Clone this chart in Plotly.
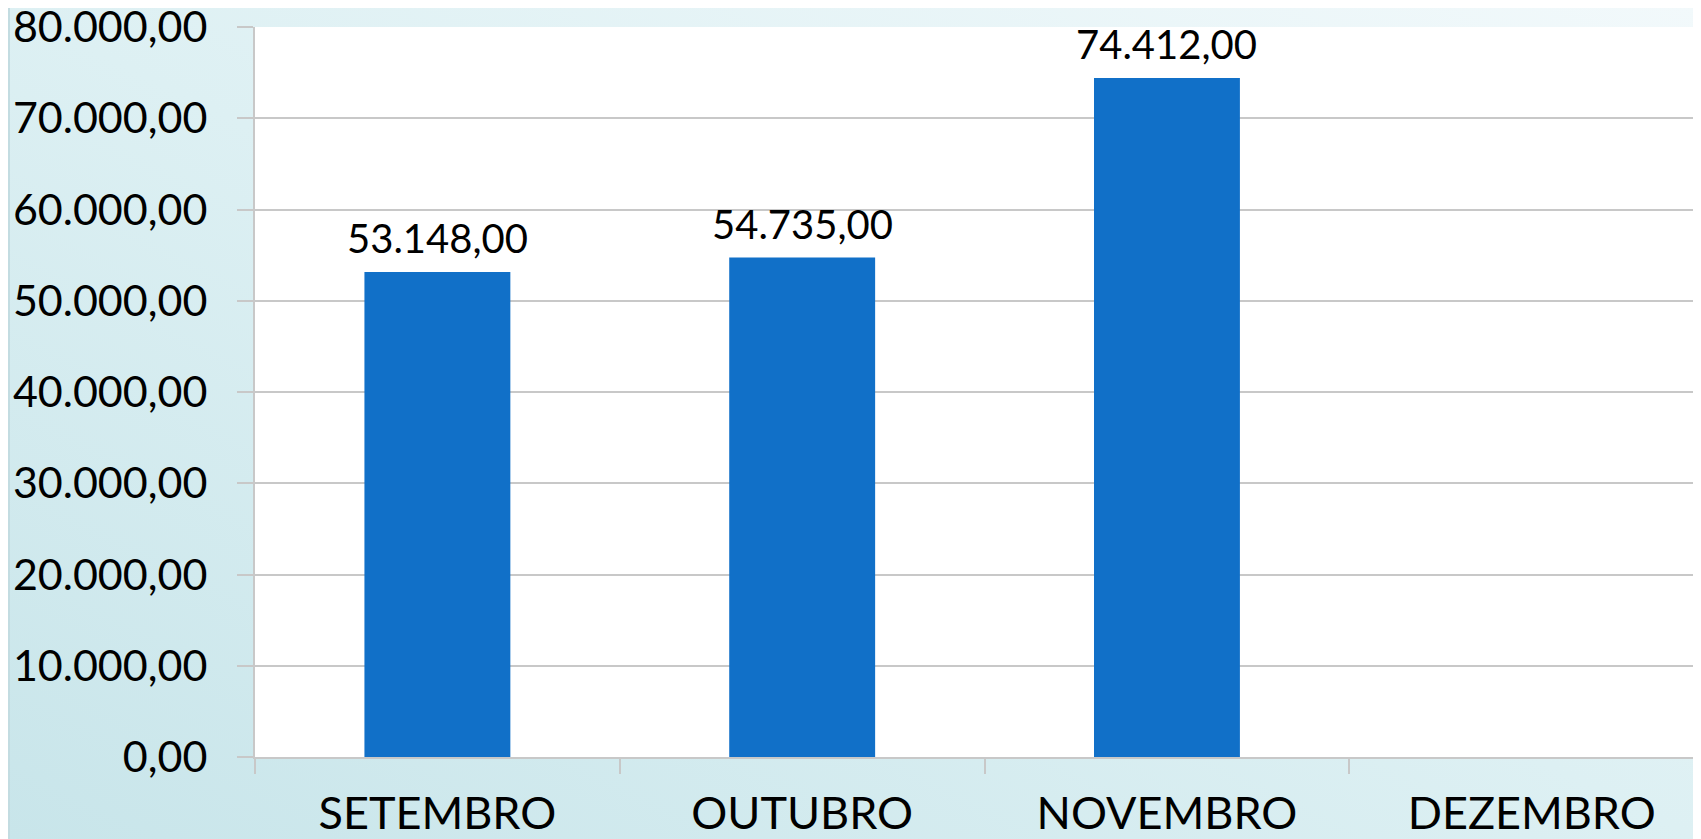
import base64
import plotly.graph_objects as go

# data
months = ['SETEMBRO', 'OUTUBRO', 'NOVEMBRO', 'DEZEMBRO']
values = [53148.00, 54735.00, 74412.00, None]

y_ticks = [0, 10000, 20000, 30000, 40000, 50000, 60000, 70000, 80000]

FONT = 'Lato'
GRID = '#C8C8C8'


def br_number(v):
    # 53148.0 -> '53.148,00'
    return f'{v:,.2f}'.replace(',', '_').replace('.', ',').replace('_', '.')


# soft teal slide background as an svg gradient
svg = (
    '<svg xmlns="http://www.w3.org/2000/svg" width="100" height="100" preserveAspectRatio="none">'
    '<defs><linearGradient id="g" x1="0" y1="1" x2="1" y2="0">'
    '<stop offset="0" stop-color="#C8E5EA"/>'
    '<stop offset="0.5" stop-color="#DDF0F3"/>'
    '<stop offset="1" stop-color="#F2F9FB"/>'
    '</linearGradient></defs>'
    '<rect width="100" height="100" fill="url(#g)"/></svg>'
)
bg_src = 'data:image/svg+xml;base64,' + base64.b64encode(svg.encode()).decode()

# page body adds an 8px offset, so the figure fills the rest of the window
W, H = 1693, 831
ml, mr, mt, mb = 247, 0, 19, 82
pw, ph = W - ml - mr, H - mt - mb

fig = go.Figure(go.Bar(
    x=months,
    y=values,
    width=0.4,
    marker=dict(color='#1170C8', line=dict(width=0)),
    hoverinfo='x+y',
))

# value labels above the bars
for m, v in zip(months, values):
    if v is None:
        continue
    fig.add_annotation(
        x=m, y=v, text=br_number(v),
        showarrow=False, yanchor='bottom', yshift=8,
        font=dict(family=FONT, size=40, color='#000000'),
    )

fig.update_layout(
    width=W,
    height=H,
    margin=dict(l=ml, r=mr, t=mt, b=mb, pad=0, autoexpand=False),
    separators=',.',
    paper_bgcolor='#DDEFF2',
    plot_bgcolor='#FFFFFF',
    showlegend=False,
    font=dict(family=FONT, color='#000000'),
    images=[dict(
        source=bg_src, xref='paper', yref='paper',
        x=-ml / pw, y=1 + mt / ph, sizex=W / pw, sizey=H / ph,
        xanchor='left', yanchor='top', sizing='stretch', layer='below',
    )],
    shapes=[
        # white plot area on top of the background image
        dict(type='rect', xref='paper', yref='paper', x0=0, x1=1, y0=0, y1=1,
             fillcolor='#FFFFFF', line=dict(width=0), layer='below'),
        # thin slide edge line at the far left
        dict(type='line', xref='paper', yref='paper',
             x0=(1 - ml) / pw, x1=(1 - ml) / pw, y0=-mb / ph, y1=1 + mt / ph,
             line=dict(color='#C3DCE1', width=2), layer='below'),
    ],
)

fig.update_yaxes(
    range=[0, 80000],
    tickvals=y_ticks,
    tickformat=',.2f',
    tickfont=dict(family=FONT, size=43),
    showgrid=True,
    gridcolor=GRID,
    gridwidth=1.5,
    zeroline=False,
    showline=True,
    linecolor=GRID,
    linewidth=2,
    ticks='outside',
    ticklen=16,
    tickcolor=GRID,
    tickwidth=1.5,
    ticklabelstandoff=21,
    ticklabeloverflow='allow',
    automargin=False,
)

fig.update_xaxes(
    range=[-0.5, 3.464],
    tickfont=dict(family=FONT, size=45),
    showgrid=False,
    showline=True,
    linecolor=GRID,
    linewidth=2,
    ticks='outside',
    tickson='boundaries',
    ticklen=15,
    tickcolor=GRID,
    tickwidth=1.5,
    ticklabelstandoff=16,
    ticklabeloverflow='allow',
    automargin=False,
)

fig.write_html('out.html')
